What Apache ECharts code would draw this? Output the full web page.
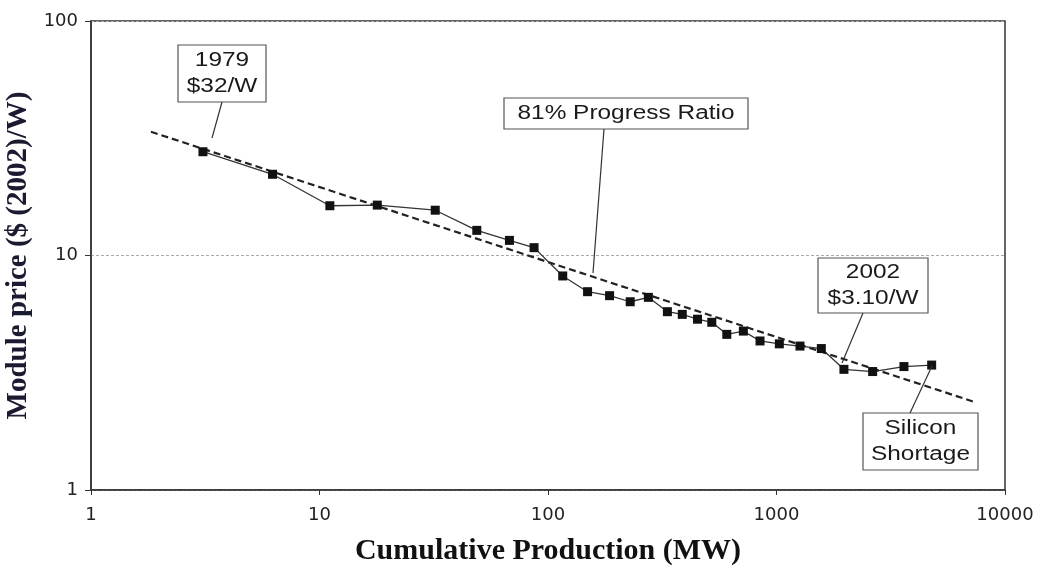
<!DOCTYPE html>
<html>
<head>
<meta charset="utf-8">
<script src="https://cdn.jsdelivr.net/npm/echarts@6/dist/echarts.min.js"></script>
<style>html,body{margin:0;padding:0;background:#fff}#c{width:1042px;height:570px}</style>
</head>
<body>
<div id="c"></div>
<script>
// Cumulative production (MW) and module price ($(2002)/W)
const production = [3.09, 6.23, 11.1, 17.9, 32.1, 48.8, 67.8, 86.9, 116, 149, 186, 229, 275, 333, 387, 451, 521, 606, 716, 847, 1029, 1267, 1571, 1973, 2635, 3612, 4776];
const price = [27.7, 22.2, 16.3, 16.4, 15.6, 12.8, 11.6, 10.8, 8.18, 7.01, 6.74, 6.35, 6.63, 5.76, 5.61, 5.35, 5.19, 4.61, 4.76, 4.32, 4.20, 4.11, 4.01, 3.27, 3.20, 3.36, 3.41];
// 81% progress ratio trend line end points
const trendX = [1.83, 7480];
const trendY = [33.7, 2.36];
const xTicks = [1, 10, 100, 1000, 10000];
const yTicks = [1, 10, 100];

const chart = echarts.init(document.getElementById('c'));
const pts = production.map((x, i) => [x, price[i]]);
const trend = trendX.map((x, i) => [x, trendY[i]]);

function box(x, y, w, h, lines, lineH) {
  const children = [{
    type: 'rect', shape: {x: 0, y: 0, width: w, height: h},
    style: {fill: '#fff', stroke: '#555', lineWidth: 1.2}
  }];
  lines.forEach((t, i) => children.push({
    type: 'text', x: w / 2, y: h / 2 + (i - (lines.length - 1) / 2) * lineH,
    scaleX: 1.22,
    style: {
      text: t, x: 0, y: 0,
      align: 'center', verticalAlign: 'middle',
      font: '20px "Liberation Sans"', fill: '#1a1a1a'
    }
  }));
  return {type: 'group', x: x, y: y, z: 100, children: children};
}
function leader(x1, y1, x2, y2) {
  return {type: 'line', z: 99, shape: {x1, y1, x2, y2}, style: {stroke: '#333', lineWidth: 1.2}};
}

chart.setOption({
  animation: false,
  grid: {left: 91, right: 37, top: 21, bottom: 80, show: true, borderColor: '#333', borderWidth: 1.5,
    containLabel: false, outerBoundsMode: 'none'},
  xAxis: {
    type: 'log', logBase: 10, min: xTicks[0], max: xTicks[xTicks.length - 1],
    name: 'Cumulative Production (MW)', nameLocation: 'middle', nameGap: 46,
    nameTextStyle: {fontFamily: 'Liberation Serif', fontWeight: 'bold', fontSize: 30, color: '#111'},
    axisLine: {lineStyle: {color: '#333', width: 1.5}},
    axisTick: {show: true, inside: false, length: 5, lineStyle: {color: '#333'}},
    minorTick: {show: false},
    axisLabel: {fontFamily: 'DejaVu Sans', fontSize: 18, color: '#222', margin: 16,
      formatter: v => String(Math.round(v))},
    splitLine: {show: false}
  },
  yAxis: {
    type: 'log', logBase: 10, min: yTicks[0], max: yTicks[yTicks.length - 1],
    name: 'Module price ($ (2002)/W)', nameLocation: 'middle', nameGap: 53,
    nameTextStyle: {fontFamily: 'Liberation Serif', fontWeight: 'bold', fontSize: 29, color: '#1a1a30'},
    axisLine: {lineStyle: {color: '#333', width: 1.5}},
    axisTick: {show: true, inside: false, length: 6, lineStyle: {color: '#333'}},
    axisLabel: {fontFamily: 'DejaVu Sans', fontSize: 18, color: '#222', margin: 13,
      formatter: v => String(Math.round(v))},
    splitLine: {show: true, lineStyle: {color: '#aaa', type: [3, 2], width: 1}}
  },
  series: [
    {
      type: 'line', data: trend, symbol: 'none', z: 3,
      lineStyle: {color: '#222', width: 2.2, type: [7, 4]}
    },
    {
      type: 'line', data: pts, symbol: 'rect', symbolSize: 9, z: 4,
      itemStyle: {color: '#111'},
      lineStyle: {color: '#333', width: 1.3}
    }
  ],
  graphic: [
    leader(222, 102, 212, 138),
    box(178, 45, 88, 57, ['1979', '$32/W'], 26),
    leader(604, 129, 593, 273),
    box(504, 98, 244, 31, ['81% Progress Ratio'], 26),
    leader(863, 313, 842, 363),
    box(818, 258, 110, 55, ['2002', '$3.10/W'], 26),
    leader(910, 413, 932, 366),
    box(863, 413, 115, 57, ['Silicon', 'Shortage'], 26)
  ]
});
</script>
</body>
</html>
